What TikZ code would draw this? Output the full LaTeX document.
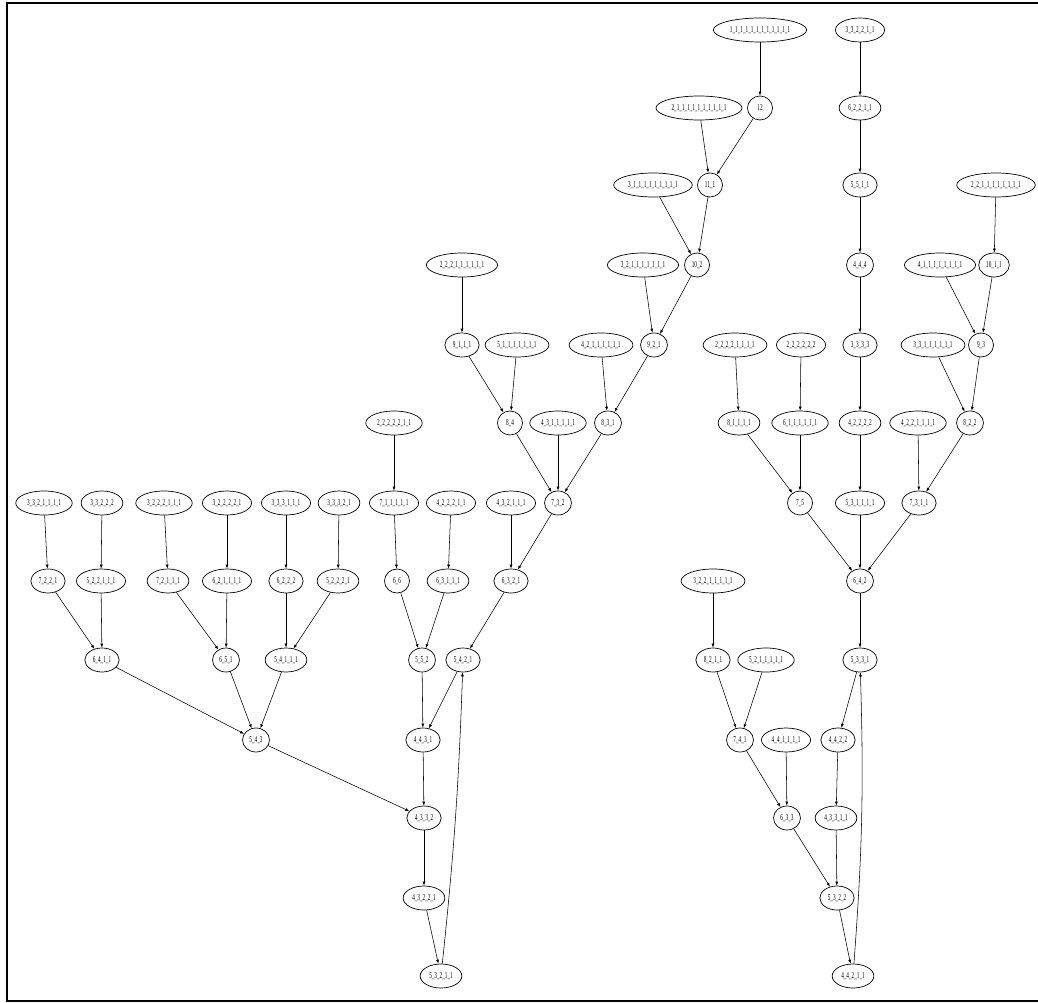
\documentclass[tikz,border=0pt]{standalone}
\usepackage{fontspec}
\newfontfamily\partfont[FakeStretch=0.58]{Liberation Serif}
\usetikzlibrary{arrows.meta,shapes.geometric}

\tikzset{
  part/.style={draw,ellipse,line width=0.7pt,inner xsep=3pt,inner ysep=1pt,
    minimum width=25pt,minimum height=24pt,font=\partfont\fontsize{9}{9}\selectfont},
  link/.style={->,line width=0.55pt}
}

\begin{document}
\begin{tikzpicture}[x=1pt,y=-1pt,>={Latex[length=4pt,width=3pt]}]
  \useasboundingbox (0,0) rectangle (1038,1003);
  \draw[line width=2pt] (1045,3) -- (7,3) -- (7,1001) -- (1045,1001);

  % row 1
  \node[part] (p1x12) at (760,30) {1\_1\_1\_1\_1\_1\_1\_1\_1\_1\_1\_1};
  \node[part] (p3-3-2-2-1-1) at (860,30) {3\_3\_2\_2\_1\_1};
  % row 2
  \node[part] (p2-1x10) at (699,108) {2\_1\_1\_1\_1\_1\_1\_1\_1\_1\_1};
  \node[part] (p12) at (760,108) {12};
  \node[part] (p6-2-2-1-1) at (860,108) {6\_2\_2\_1\_1};
  % row 3
  \node[part] (p3-1x9) at (653,185) {3\_1\_1\_1\_1\_1\_1\_1\_1\_1};
  \node[part] (p11-1) at (710,185) {11\_1};
  \node[part] (p5-5-1-1) at (860,185) {5\_5\_1\_1};
  \node[part] (p2-2-1x8) at (996,185) {2\_2\_1\_1\_1\_1\_1\_1\_1\_1};
  % row 4
  \node[part] (p2-2-2-1x6) at (462,265) {2\_2\_2\_1\_1\_1\_1\_1\_1};
  \node[part] (p3-2-1x7) at (643,265) {3\_2\_1\_1\_1\_1\_1\_1\_1};
  \node[part] (p10-2) at (697,265) {10\_2};
  \node[part] (p4-4-4) at (860,265) {4\_4\_4};
  \node[part] (p4-1x8) at (940,265) {4\_1\_1\_1\_1\_1\_1\_1\_1};
  \node[part] (p10-1-1) at (994,265) {10\_1\_1};
  % row 5
  \node[part] (p9-1-1-1) at (462,345) {9\_1\_1\_1};
  \node[part] (p5-1x7) at (517,345) {5\_1\_1\_1\_1\_1\_1\_1};
  \node[part] (p4-2-1x6) at (601,345) {4\_2\_1\_1\_1\_1\_1\_1};
  \node[part] (p9-2-1) at (654,345) {9\_2\_1};
  \node[part] (p2x4-1x4) at (735,345) {2\_2\_2\_2\_1\_1\_1\_1};
  \node[part] (p2x6) at (801,345) {2\_2\_2\_2\_2\_2};
  \node[part] (p3-3-3-3) at (860,345) {3\_3\_3\_3};
  \node[part] (p3-3-1x6) at (933,345) {3\_3\_1\_1\_1\_1\_1\_1};
  \node[part] (p9-3) at (981,345) {9\_3};
  % row 6
  \node[part] (p2x5-1-1) at (394,423) {2\_2\_2\_2\_2\_1\_1};
  \node[part] (p8-4) at (510,423) {8\_4};
  \node[part] (p4-3-1x5) at (558,423) {4\_3\_1\_1\_1\_1\_1};
  \node[part] (p8-3-1) at (608,423) {8\_3\_1};
  \node[part] (p8-1x4) at (739,423) {8\_1\_1\_1\_1};
  \node[part] (p6-1x6) at (800,423) {6\_1\_1\_1\_1\_1\_1};
  \node[part] (p4-2x4) at (860,423) {4\_2\_2\_2\_2};
  \node[part] (p4-2-2-1x4) at (918,423) {4\_2\_2\_1\_1\_1\_1};
  \node[part] (p8-2-2) at (970,423) {8\_2\_2};
  % row 7
  \node[part] (p3-3-2-1x4) at (44,503) {3\_3\_2\_1\_1\_1\_1};
  \node[part] (p3-3-2-2-2) at (102,503) {3\_3\_2\_2\_2};
  \node[part] (p3-2-2-2-1-1-1) at (164,503) {3\_2\_2\_2\_1\_1\_1};
  \node[part] (p3-2x4-1) at (227,503) {3\_2\_2\_2\_2\_1};
  \node[part] (p3-3-3-1-1-1) at (286,503) {3\_3\_3\_1\_1\_1};
  \node[part] (p3-3-3-2-1) at (339,503) {3\_3\_3\_2\_1};
  \node[part] (p7-1x5) at (394,503) {7\_1\_1\_1\_1\_1};
  \node[part] (p4-2-2-2-1-1) at (451,503) {4\_2\_2\_2\_1\_1};
  \node[part] (p4-3-2-1-1-1) at (511,503) {4\_3\_2\_1\_1\_1};
  \node[part] (p7-3-2) at (558,503) {7\_3\_2};
  \node[part] (p7-5) at (800,503) {7\_5};
  \node[part] (p5-3-1x4) at (860,503) {5\_3\_1\_1\_1\_1};
  \node[part] (p7-3-1-1) at (919,503) {7\_3\_1\_1};
  % row 8
  \node[part] (p7-2-2-1) at (48,581) {7\_2\_2\_1};
  \node[part] (p5-2-2-1-1-1) at (101,581) {5\_2\_2\_1\_1\_1};
  \node[part] (p7-2-1-1-1) at (168,581) {7\_2\_1\_1\_1};
  \node[part] (p6-2-1x4) at (227,581) {6\_2\_1\_1\_1\_1};
  \node[part] (p6-2-2-2) at (286,581) {6\_2\_2\_2};
  \node[part] (p5-2-2-2-1) at (338,581) {5\_2\_2\_2\_1};
  \node[part] (p6-6) at (397,581) {6\_6};
  \node[part] (p6-3-1-1-1) at (448,581) {6\_3\_1\_1\_1};
  \node[part] (p6-3-2-1) at (511,581) {6\_3\_2\_1};
  \node[part] (p3-2-2-1x5) at (713,581) {3\_2\_2\_1\_1\_1\_1\_1};
  \node[part] (p6-4-2) at (860,581) {6\_4\_2};
  % row 9
  \node[part] (p6-4-1-1) at (102,660) {6\_4\_1\_1};
  \node[part] (p6-5-1) at (226,660) {6\_5\_1};
  \node[part] (p5-4-1-1-1) at (286,660) {5\_4\_1\_1\_1};
  \node[part] (p5-5-2) at (422,660) {5\_5\_2};
  \node[part] (p5-4-2-1) at (463,660) {5\_4\_2\_1};
  \node[part] (p8-2-1-1) at (713,660) {8\_2\_1\_1};
  \node[part] (p5-2-1x5) at (766,660) {5\_2\_1\_1\_1\_1\_1};
  \node[part] (p5-3-3-1) at (860,660) {5\_3\_3\_1};
  % row 10
  \node[part] (p5-4-3) at (256,740) {5\_4\_3};
  \node[part] (p4-4-3-1) at (423,740) {4\_4\_3\_1};
  \node[part] (p7-4-1) at (740,740) {7\_4\_1};
  \node[part] (p4-4-1x4) at (786,740) {4\_4\_1\_1\_1\_1};
  \node[part] (p4-4-2-2) at (838,740) {4\_4\_2\_2};
  % row 11
  \node[part] (p4-3-3-2) at (424,818) {4\_3\_3\_2};
  \node[part] (p6-3-3) at (787,818) {6\_3\_3};
  \node[part] (p4-3-3-1-1) at (836,818) {4\_3\_3\_1\_1};
  % row 12
  \node[part] (p4-3-2-2-1) at (424,898) {4\_3\_2\_2\_1};
  \node[part] (p5-3-2-2) at (837,898) {5\_3\_2\_2};
  % row 13
  \node[part] (p5-3-2-1-1) at (441,976) {5\_3\_2\_1\_1};
  \node[part] (p4-4-2-1-1) at (853,976) {4\_4\_2\_1\_1};

  % left tree
  \draw[link] (p1x12) -- (p12);
  \draw[link] (p2-1x10) -- (p11-1);
  \draw[link] (p12) -- (p11-1);
  \draw[link] (p3-1x9) -- (p10-2);
  \draw[link] (p11-1) -- (p10-2);
  \draw[link] (p3-2-1x7) -- (p9-2-1);
  \draw[link] (p10-2) -- (p9-2-1);
  \draw[link] (p2-2-2-1x6) -- (p9-1-1-1);
  \draw[link] (p9-1-1-1) -- (p8-4);
  \draw[link] (p5-1x7) -- (p8-4);
  \draw[link] (p4-2-1x6) -- (p8-3-1);
  \draw[link] (p9-2-1) -- (p8-3-1);
  \draw[link] (p8-4) -- (p7-3-2);
  \draw[link] (p4-3-1x5) -- (p7-3-2);
  \draw[link] (p8-3-1) -- (p7-3-2);
  \draw[link] (p7-3-2) -- (p6-3-2-1);
  \draw[link] (p4-3-2-1-1-1) -- (p6-3-2-1);
  \draw[link] (p2x5-1-1) -- (p7-1x5);
  \draw[link] (p7-1x5) -- (p6-6);
  \draw[link] (p4-2-2-2-1-1) -- (p6-3-1-1-1);
  \draw[link] (p6-6) -- (p5-5-2);
  \draw[link] (p6-3-1-1-1) -- (p5-5-2);
  \draw[link] (p6-3-2-1) -- (p5-4-2-1);
  \draw[link] (p5-5-2) -- (p4-4-3-1);
  \draw[link] (p5-4-2-1) -- (p4-4-3-1);
  \draw[link] (p3-3-2-1x4) -- (p7-2-2-1);
  \draw[link] (p3-3-2-2-2) -- (p5-2-2-1-1-1);
  \draw[link] (p3-2-2-2-1-1-1) -- (p7-2-1-1-1);
  \draw[link] (p3-2x4-1) -- (p6-2-1x4);
  \draw[link] (p3-3-3-1-1-1) -- (p6-2-2-2);
  \draw[link] (p3-3-3-2-1) -- (p5-2-2-2-1);
  \draw[link] (p7-2-2-1) -- (p6-4-1-1);
  \draw[link] (p5-2-2-1-1-1) -- (p6-4-1-1);
  \draw[link] (p7-2-1-1-1) -- (p6-5-1);
  \draw[link] (p6-2-1x4) -- (p6-5-1);
  \draw[link] (p6-2-2-2) -- (p5-4-1-1-1);
  \draw[link] (p5-2-2-2-1) -- (p5-4-1-1-1);
  \draw[link] (p6-4-1-1) -- (p5-4-3);
  \draw[link] (p6-5-1) -- (p5-4-3);
  \draw[link] (p5-4-1-1-1) -- (p5-4-3);
  \draw[link] (p4-4-3-1) -- (p4-3-3-2);
  \draw[link] (p5-4-3) -- (p4-3-3-2);
  \draw[link] (p4-3-3-2) -- (p4-3-2-2-1);
  \draw[link] (p4-3-2-2-1) -- (p5-3-2-1-1);
  \draw[link] (p5-3-2-1-1) to[bend right=2] (p5-4-2-1);

  % right tree
  \draw[link] (p3-3-2-2-1-1) -- (p6-2-2-1-1);
  \draw[link] (p6-2-2-1-1) -- (p5-5-1-1);
  \draw[link] (p5-5-1-1) -- (p4-4-4);
  \draw[link] (p4-4-4) -- (p3-3-3-3);
  \draw[link] (p3-3-3-3) -- (p4-2x4);
  \draw[link] (p4-2x4) -- (p5-3-1x4);
  \draw[link] (p5-3-1x4) -- (p6-4-2);
  \draw[link] (p2-2-1x8) -- (p10-1-1);
  \draw[link] (p10-1-1) -- (p9-3);
  \draw[link] (p4-1x8) -- (p9-3);
  \draw[link] (p9-3) -- (p8-2-2);
  \draw[link] (p3-3-1x6) -- (p8-2-2);
  \draw[link] (p8-2-2) -- (p7-3-1-1);
  \draw[link] (p4-2-2-1x4) -- (p7-3-1-1);
  \draw[link] (p7-3-1-1) -- (p6-4-2);
  \draw[link] (p2x4-1x4) -- (p8-1x4);
  \draw[link] (p8-1x4) -- (p7-5);
  \draw[link] (p2x6) -- (p6-1x6);
  \draw[link] (p6-1x6) -- (p7-5);
  \draw[link] (p7-5) -- (p6-4-2);
  \draw[link] (p6-4-2) -- (p5-3-3-1);
  \draw[link] (p5-3-3-1) -- (p4-4-2-2);
  \draw[link] (p4-4-2-2) -- (p4-3-3-1-1);
  \draw[link] (p4-3-3-1-1) -- (p5-3-2-2);
  \draw[link] (p3-2-2-1x5) -- (p8-2-1-1);
  \draw[link] (p8-2-1-1) -- (p7-4-1);
  \draw[link] (p5-2-1x5) -- (p7-4-1);
  \draw[link] (p7-4-1) -- (p6-3-3);
  \draw[link] (p4-4-1x4) -- (p6-3-3);
  \draw[link] (p6-3-3) -- (p5-3-2-2);
  \draw[link] (p5-3-2-2) -- (p4-4-2-1-1);
  \draw[link] (p4-4-2-1-1) to[bend right=3] (p5-3-3-1);
\end{tikzpicture}
\end{document}
